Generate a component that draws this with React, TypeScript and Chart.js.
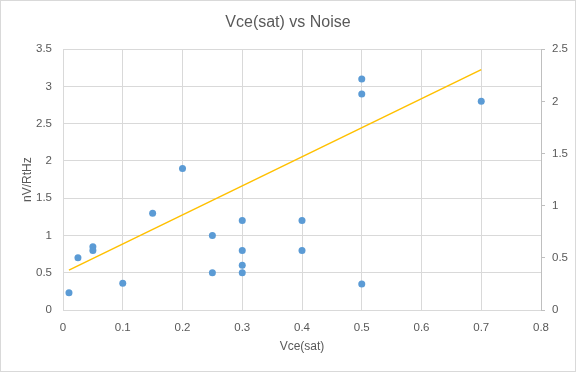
import React, { useEffect, useRef } from 'react';
import { Chart, registerables } from 'chart.js';

Chart.register(...registerables);

// Data
const vceSat = [0.01, 0.025, 0.05, 0.05, 0.1, 0.15, 0.2, 0.25, 0.25, 0.3, 0.3, 0.3, 0.3, 0.4, 0.4, 0.5, 0.5, 0.5, 0.7];
const noise = [0.23, 0.7, 0.85, 0.8, 0.36, 1.3, 1.9, 1.0, 0.5, 1.2, 0.8, 0.6, 0.5, 1.2, 0.8, 3.1, 2.9, 0.35, 2.8];
// Trend line (plotted against the secondary axis)
const trendX = [0.01, 0.7];
const trendY = [0.382, 2.304];

const titleText = 'Vce(sat) vs Noise';
const xTitle = 'Vce(sat)';
const yTitle = 'nV/RtHz';

const FONT = "'Liberation Sans', Arial, sans-serif";
const TEXT = '#595959';
const GRID = '#d9d9d9';
const AXIS = '#bfbfbf';

const fmt = (v: number | string) => {
  const n = Number(v);
  return String(Number(n.toFixed(2)));
};

const frame = {
  id: 'frame',
  beforeDraw(chart: any) {
    const { ctx, width, height } = chart;
    ctx.save();
    ctx.fillStyle = '#ffffff';
    ctx.fillRect(0, 0, width, height);
    ctx.strokeStyle = GRID;
    ctx.lineWidth = 1;
    ctx.strokeRect(0.5, 0.5, width - 1, height - 1);
    ctx.restore();
  },
};

export default function App() {
  const ref = useRef<HTMLCanvasElement | null>(null);

  useEffect(() => {
    document.body.style.margin = '0';
    if (!ref.current) return;
    const chart = new Chart(ref.current, {
      type: 'scatter',
      data: {
        datasets: [
          {
            label: 'Noise',
            data: vceSat.map((x, i) => ({ x, y: noise[i] })),
            backgroundColor: '#5b9bd5',
            borderColor: '#5b9bd5',
            pointRadius: 3.5,
            borderWidth: 0,
            yAxisID: 'y',
          },
          {
            label: 'Trend',
            data: trendX.map((x, i) => ({ x, y: trendY[i] })),
            showLine: true,
            borderColor: '#ffc000',
            backgroundColor: '#ffc000',
            borderWidth: 1.5,
            pointRadius: 0,
            yAxisID: 'y2',
          } as any,
        ],
      },
      options: {
        animation: false,
        responsive: true,
        maintainAspectRatio: false,
        layout: { padding: 0 },
        plugins: {
          legend: { display: false },
          tooltip: { enabled: false },
          title: {
            display: true,
            text: titleText,
            color: TEXT,
            font: { family: FONT, size: 16, weight: 'normal' as any },
            padding: { top: 13, bottom: 17 },
          },
        },
        scales: {
          x: {
            type: 'linear',
            min: 0,
            max: 0.8,
            ticks: {
              stepSize: 0.1,
              color: TEXT,
              font: { family: FONT, size: 11.5 },
              padding: 11,
              callback: (v: any) => fmt(v),
            },
            grid: { color: GRID, drawTicks: false },
            border: { display: true, color: GRID },
            title: {
              display: true,
              text: xTitle,
              color: TEXT,
              font: { family: FONT, size: 12 },
              padding: { top: 0, bottom: 18 },
            },
            afterFit: (s: any) => {
              s.height = 62;
            },
          },
          y: {
            type: 'linear',
            position: 'left',
            min: 0,
            max: 3.5,
            ticks: {
              stepSize: 0.5,
              color: TEXT,
              font: { family: FONT, size: 11.5 },
              padding: 11,
              callback: (v: any) => fmt(v),
            },
            grid: { color: GRID, drawTicks: false },
            border: { display: true, color: GRID },
            title: {
              display: true,
              text: yTitle,
              color: TEXT,
              font: { family: FONT, size: 12 },
              padding: { top: 20, bottom: 0 },
            },
            afterFit: (s: any) => {
              s.width = 63;
            },
          },
          y2: {
            type: 'linear',
            position: 'right',
            min: 0,
            max: 2.5,
            ticks: {
              stepSize: 0.5,
              color: TEXT,
              font: { family: FONT, size: 11.5 },
              padding: 7,
              callback: (v: any) => fmt(v),
            },
            grid: { color: AXIS, drawOnChartArea: false, drawTicks: true, tickLength: 4 },
            border: { display: true, color: AXIS },
            afterFit: (s: any) => {
              s.width = 35;
            },
          },
        },
      } as any,
      plugins: [frame],
    });
    return () => chart.destroy();
  }, []);

  return (
    <div style={{ position: 'relative', width: 576, height: 372 }}>
      <canvas ref={ref} />
    </div>
  );
}
